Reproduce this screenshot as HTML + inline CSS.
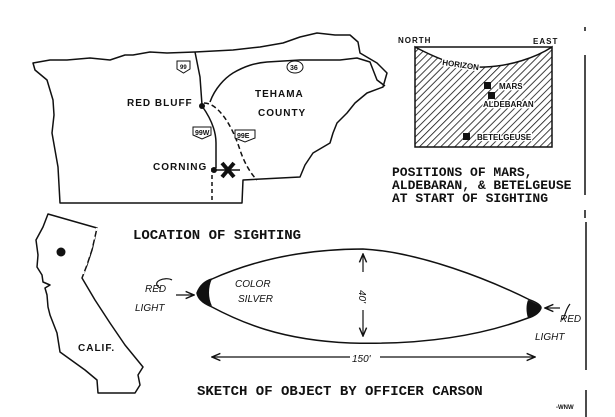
<!DOCTYPE html>
<html><head><meta charset="utf-8"><style>
html,body{margin:0;padding:0;background:#fff;}
svg{display:block;}
.m{font-family:"Liberation Mono",monospace;font-weight:bold;font-size:14px;fill:#111;}
.s{font-family:"Liberation Sans",sans-serif;font-weight:bold;font-size:10px;fill:#111;letter-spacing:1px;}
.h{font-family:"Liberation Sans",sans-serif;font-style:italic;font-size:10px;fill:#111;}
</style></head><body>
<svg width="615" height="417" viewBox="0 0 615 417" xmlns="http://www.w3.org/2000/svg">
<defs>
<pattern id="hat" width="5" height="5" patternUnits="userSpaceOnUse" patternTransform="rotate(45)">
<rect width="5" height="5" fill="#fff"/><line x1="0" y1="0" x2="0" y2="5" stroke="#111" stroke-width="1.6"/>
</pattern>
<marker id="ar" markerWidth="8" markerHeight="8" refX="7" refY="4" orient="auto"><path d="M0,1 L7,4 L0,7" fill="none" stroke="#111" stroke-width="1.2"/></marker>
</defs>
<g fill="none" stroke="#111" stroke-width="1.5" stroke-linejoin="round">
<path d="M35,70 L33,63 L50,60 L67,60 L90,58 L110,60 L125,55 L133,55 L150,52 L167,53 L195,52 L233,50 L260,47 L283,43 L300,37 L317,33 L335,35 L350,35 L358,42 L360,53 L377,63 L387,73 L385,80 L383,87 L367,93 L355,103 L347,113 L337,123 L333,133 L330,143 L313,153 L305,165 L300,177 L243,180 L242,203 L60,203 L58,167 L55,150 L52,133 L54,115 L53,100 L50,90 L47,80 Z"/>
<path d="M210,102 C215,88 225,78 233,73 C245,66 255,63 267,62 L300,60 L340,60 L357,58 L370,62 L377,80 L385,86"/>
<path d="M195,52 L200,77 L202,105"/>
<path d="M202,106 C212,120 216,132 216,143 L216,168"/>
<path d="M204,103 C218,103 232,125 240,150 C245,165 252,175 257,180" stroke-dasharray="5,3"/>
<path d="M212,168 L212,203" stroke-dasharray="4,3"/>
<path d="M214,170 L240,170"/>
</g>
<circle cx="202" cy="106" r="3" fill="#111"/>
<circle cx="214" cy="170" r="3" fill="#111"/>
<path d="M222,163 L234,177 M234,163 L222,177" stroke="#111" stroke-width="4"/>
<g stroke="#111" stroke-width="1" fill="#fff">
<path d="M177,61 h13 v8 l-6.5,4 l-6.5,-4 z"/>
<ellipse cx="295" cy="67" rx="8" ry="6"/>
<path d="M193,127 h18 v8 l-9,4 l-9,-4 z"/>
<path d="M235,130 h20 v8 l-10,4 l-10,-4 z"/>
</g>
<g style="font-family:'Liberation Sans',sans-serif;font-weight:bold;fill:#111">
<text x="180" y="69" font-size="6">99</text>
<text x="290" y="70" font-size="7">36</text>
<text x="195" y="135" font-size="7">99W</text>
<text x="237" y="138" font-size="7">99E</text>
</g>
<text class="s" x="127" y="106">RED BLUFF</text>
<text class="s" x="255" y="97">TEHAMA</text>
<text class="s" x="258" y="116">COUNTY</text>
<text class="s" x="153" y="170">CORNING</text>
<path d="M415,47 C440,60 460,68 485,67 C510,66 535,58 552,47 L552,147 L415,147 Z" fill="url(#hat)" stroke="#111" stroke-width="1.5"/>
<line x1="415" y1="47" x2="552" y2="47" stroke="#111" stroke-width="1.5"/>
<text class="s" x="398" y="43" style="font-size:8px">NORTH</text>
<text class="s" x="533" y="44" style="font-size:8px">EAST</text>
<g style="font-family:'Liberation Sans',sans-serif;font-weight:bold;font-size:8px;fill:#111" stroke="#fff" stroke-width="2.5" paint-order="stroke">
<text x="442" y="65" transform="rotate(8 442 65)">HORIZON</text>
<text x="499" y="89">MARS</text>
<text x="483" y="107">ALDEBARAN</text>
<text x="477" y="140">BETELGEUSE</text>
</g>
<rect x="484" y="82" width="7" height="7" fill="#111"/>
<rect x="488" y="92" width="7" height="7" fill="#111"/>
<rect x="463" y="133" width="7" height="7" fill="#111"/>
<g class="m" style="font-size:13px">
<text x="392" y="176">POSITIONS OF MARS,</text>
<text x="392" y="189">ALDEBARAN, &amp; BETELGEUSE</text>
<text x="392" y="202">AT START OF SIGHTING</text>
</g>
<g stroke="#111" stroke-width="1.5">
<line x1="585" y1="55" x2="585" y2="195"/>
<line x1="585" y1="27" x2="585" y2="31"/>
<line x1="585" y1="210" x2="585" y2="218"/>
<line x1="586" y1="222" x2="586" y2="370"/>
<line x1="586" y1="390" x2="586" y2="417"/>
</g>
<path d="M48,214 L97,228 L92,250 L87,265 L82,278 L95,300 L110,323 L125,345 L143,367 L138,375 L140,385 L135,393 L98,393 L97,380 L85,370 L60,352 L57,333 L50,315 L48,307 L47,295 L45,288 L50,285 L43,282 L42,275 L37,267 L38,255 L36,240 L43,227 Z" fill="none" stroke="#111" stroke-width="1.5" stroke-linejoin="round"/>
<path d="M97,228 L82,278" stroke="#fff" stroke-width="2" stroke-dasharray="3,6"/>
<circle cx="61" cy="252" r="4.5" fill="#111"/>
<text class="s" x="78" y="351">CALIF.</text>
<text class="m" x="133" y="239">LOCATION OF SIGHTING</text>
<path d="M197,293 C200,285 205,281 212,279 C250,262 300,249 363,249 C420,252 490,280 530,300 C538,303 541,306 541,308 C540,312 535,316 528,318 C480,336 420,345 350,343 C280,340 240,322 210,306 C203,303 198,299 197,293 Z" fill="none" stroke="#111" stroke-width="1.5"/>
<path d="M197,293 C200,285 205,281 212,279 C208,287 208,298 212,306 C203,303 198,299 197,293 Z" fill="#111"/>
<path d="M528,300 C536,303 541,306 541,308 C540,312 535,316 528,318 C526,312 526,305 528,300 Z" fill="#111"/>
<g stroke="#111" stroke-width="1.2" fill="none">
<line x1="363" y1="272" x2="363" y2="254" marker-end="url(#ar)"/>
<line x1="363" y1="310" x2="363" y2="336" marker-end="url(#ar)"/>
<line x1="350" y1="357" x2="212" y2="357" marker-end="url(#ar)"/>
<line x1="380" y1="357" x2="535" y2="357" marker-end="url(#ar)"/>
<line x1="176" y1="295" x2="194" y2="295" marker-end="url(#ar)"/>
<line x1="560" y1="308" x2="545" y2="308" marker-end="url(#ar)"/>
<path d="M160,288 C150,282 165,276 172,280"/>
<path d="M570,304 C565,310 565,318 562,320"/>
</g>
<text class="h" x="359" y="290" transform="rotate(90 359 290)">40'</text>
<text class="h" x="352" y="362" font-size="11">150'</text>
<text class="h" x="235" y="287">COLOR</text>
<text class="h" x="238" y="302">SILVER</text>
<text class="h" x="145" y="292">RED</text>
<text class="h" x="135" y="311">LIGHT</text>
<text class="h" x="560" y="322">RED</text>
<text class="h" x="535" y="340">LIGHT</text>
<text class="m" x="197" y="395">SKETCH OF OBJECT BY OFFICER CARSON</text>
<text x="556" y="409" style="font-family:'Liberation Sans',sans-serif;font-weight:bold;font-size:6px;fill:#111">-WNW</text>
</svg>
</body></html>
